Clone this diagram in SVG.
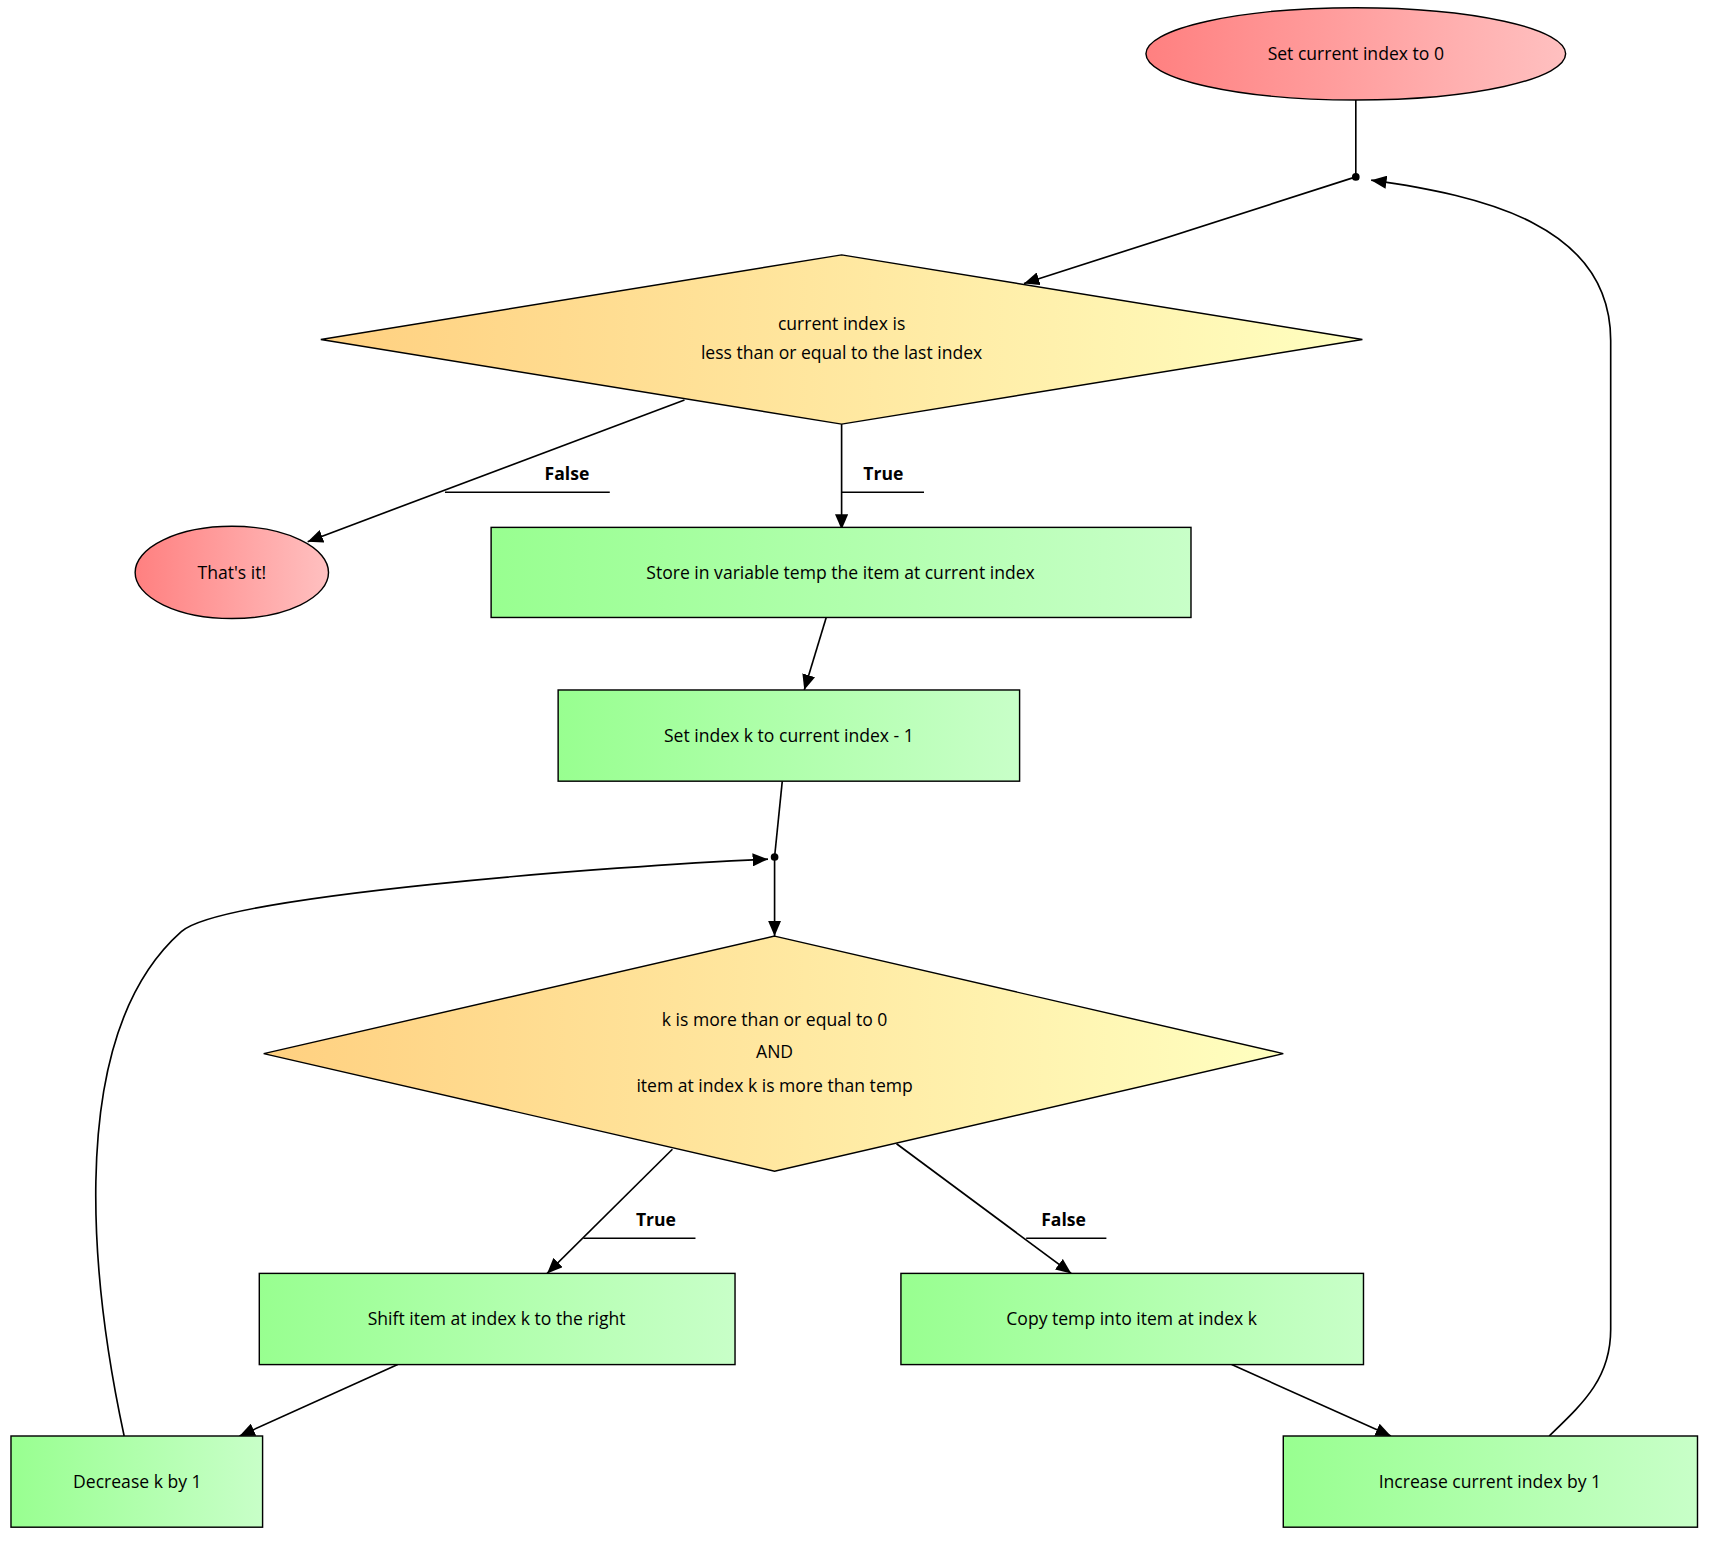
<svg xmlns="http://www.w3.org/2000/svg" width="1714" height="1544" viewBox="0 0 1714 1544">
<style>
text{font-family:"Open Sans","Noto Sans",sans-serif;font-size:16px;fill:#000;text-anchor:middle}
.lbl{font-weight:bold}
.sh{stroke:#000;stroke-width:1.3}
.e{fill:none;stroke:#000;stroke-width:1.5}
.u{stroke:#000;stroke-width:1.3}
</style>
<defs>
<linearGradient id="gr"><stop offset="0" stop-color="#ff8080"/><stop offset="1" stop-color="#ffc0c0"/></linearGradient>
<linearGradient id="gy"><stop offset="0" stop-color="#ffd080"/><stop offset="1" stop-color="#ffffc0"/></linearGradient>
<linearGradient id="gg"><stop offset="0" stop-color="#98ff90"/><stop offset="1" stop-color="#c8ffc8"/></linearGradient>
<marker id="a" markerWidth="14" markerHeight="12" refX="14" refY="6" orient="auto" markerUnits="userSpaceOnUse"><path d="M0,0 L14,6 L0,12 Z" fill="#000"/></marker>
</defs>
<rect width="1714" height="1544" fill="#fff"/>
<g transform="scale(1.0987)">
<g id="connectors">
<path class="e" d="M1234,91 L1234,161"/>
<path class="e" d="M1234,161 L932,258" marker-end="url(#a)"/>
<path class="e" d="M623,364 L280,493" marker-end="url(#a)"/>
<path class="e" d="M766,386 L766,482" marker-end="url(#a)"/>
<path class="e" d="M752,562 L732,628" marker-end="url(#a)"/>
<path class="e" d="M712,711 L705,780"/>
<path class="e" d="M705,780 L705,852" marker-end="url(#a)"/>
<path class="e" d="M612,1046 L498,1159" marker-end="url(#a)"/>
<path class="e" d="M816,1041 L975,1159" marker-end="url(#a)"/>
<path class="e" d="M362,1242 L218,1307" marker-end="url(#a)"/>
<path class="e" d="M1121,1242 L1266,1307" marker-end="url(#a)"/>
<path class="e" d="M113,1307 C90,1200 50,950 165,848 C200,815 560,788 699,782" marker-end="url(#a)"/>
<path class="e" d="M1410,1307 C1440,1278 1466,1255 1466,1210 L1466,310 C1466,205 1350,178 1248,164" marker-end="url(#a)"/>
<text class="lbl" x="516" y="437">False</text><line class="u" x1="405" y1="448" x2="555" y2="448"/>
<text class="lbl" x="804" y="437">True</text><line class="u" x1="766" y1="448" x2="841" y2="448"/>
<text class="lbl" x="597" y="1116">True</text><line class="u" x1="531" y1="1127" x2="633" y2="1127"/>
<text class="lbl" x="968" y="1116">False</text><line class="u" x1="934" y1="1127" x2="1007" y2="1127"/>
</g>
<g id="start"><ellipse class="sh" cx="1234" cy="49" rx="191" ry="42" fill="url(#gr)"/><text x="1234" y="55">Set current index to 0</text></g>
<g id="j1"><circle cx="1234" cy="161" r="3.5"/></g>
<g id="cond1"><polygon class="sh" points="766,232 1240,309 766,386 292,309" fill="url(#gy)"/><text x="766" y="300">current index is</text><text x="766" y="327">less than or equal to the last index</text></g>
<g id="end"><ellipse class="sh" cx="211" cy="521" rx="88" ry="42" fill="url(#gr)"/><text x="211" y="527">That's it!</text></g>
<g id="store"><rect class="sh" x="447" y="480" width="637" height="82" fill="url(#gg)"/><text x="765" y="527">Store in variable temp the item at current index</text></g>
<g id="setk"><rect class="sh" x="508" y="628" width="420" height="83" fill="url(#gg)"/><text x="718" y="675">Set index k to current index - 1</text></g>
<g id="j2"><circle cx="705" cy="780" r="3.5"/></g>
<g id="cond2"><polygon class="sh" points="705,852 1168,959 705,1066 240,959" fill="url(#gy)"/><text x="705" y="934">k is more than or equal to 0</text><text x="705" y="963">AND</text><text x="705" y="994">item at index k is more than temp</text></g>
<g id="shift"><rect class="sh" x="236" y="1159" width="433" height="83" fill="url(#gg)"/><text x="452" y="1206">Shift item at index k to the right</text></g>
<g id="copy"><rect class="sh" x="820" y="1159" width="421" height="83" fill="url(#gg)"/><text x="1030" y="1206">Copy temp into item at index k</text></g>
<g id="dec"><rect class="sh" x="10" y="1307" width="229" height="83" fill="url(#gg)"/><text x="125" y="1354">Decrease k by 1</text></g>
<g id="inc"><rect class="sh" x="1168" y="1307" width="377" height="83" fill="url(#gg)"/><text x="1356" y="1354">Increase current index by 1</text></g>
</g>
</svg>
